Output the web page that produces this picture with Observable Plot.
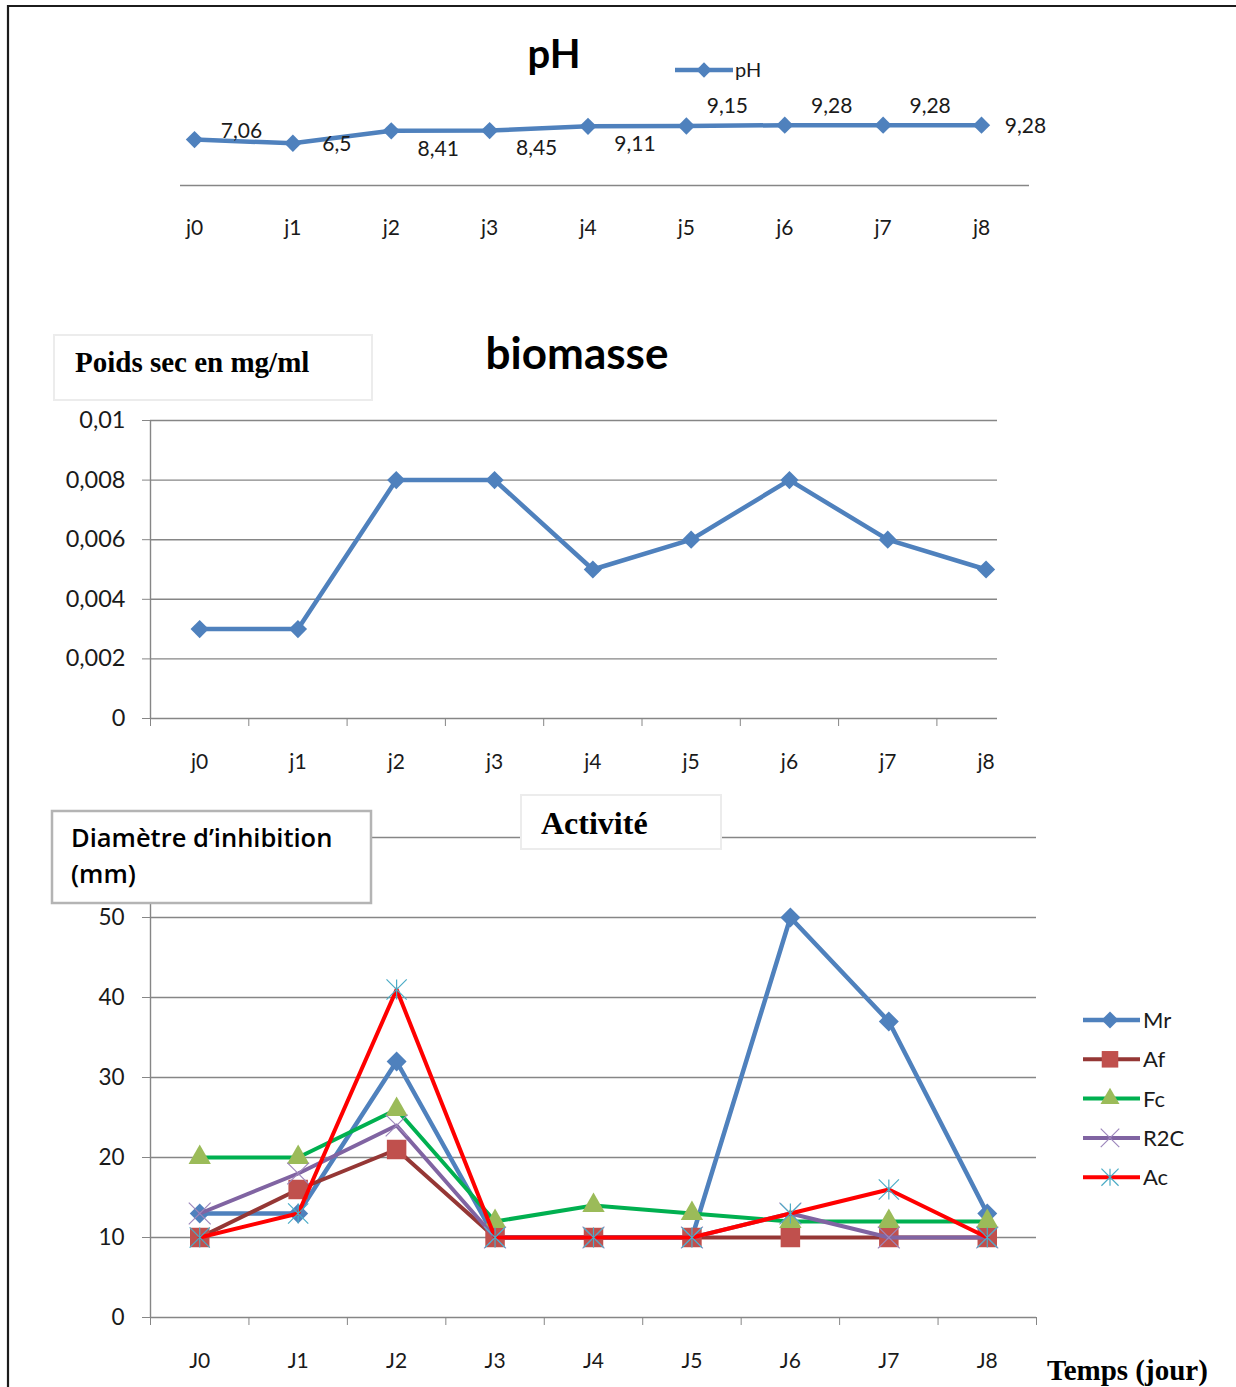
<!DOCTYPE html>
<html>
<head>
<meta charset="utf-8">
<script src="https://cdn.jsdelivr.net/npm/d3@7"></script>
<script src="https://cdn.jsdelivr.net/npm/@observablehq/plot@0.6"></script>
<style>
  html, body { margin: 0; padding: 0; background: #fff; }
  #page { position: relative; width: 1236px; height: 1387px; overflow: hidden; background: #fff; }
  #page > svg { position: absolute; left: 0; top: 0; }
</style>
</head>
<body>
<div id="page"></div>
<script>
// ---- data ----------------------------------------------------------
const days = ["j0", "j1", "j2", "j3", "j4", "j5", "j6", "j7", "j8"];
const daysUpper = ["J0", "J1", "J2", "J3", "J4", "J5", "J6", "J7", "J8"];

const pHValues = [7.06, 6.5, 8.41, 8.45, 9.11, 9.15, 9.28, 9.28, 9.28];

const biomass = [0.003, 0.003, 0.008, 0.008, 0.005, 0.006, 0.008, 0.006, 0.005];
const biomassTicks = [0, 0.002, 0.004, 0.006, 0.008, 0.01];

const seriesNames = ["Mr", "Af", "Fc", "R2C", "Ac"];
const mr  = [13, 13, 32, 10, 10, 10, 50, 37, 13];
const af  = [10, 16, 21, 10, 10, 10, 10, 10, 10];
const fc  = [20, 20, 26, 12, 14, 13, 12, 12, 12];
const r2c = [13, 18, 24, 10, 10, 10, 13, 10, 10];
const ac  = [10, 13, 41, 10, 10, 10, 13, 16, 10];
const activityGrid = [0, 10, 20, 30, 40, 50, 60];
const activityTickLabels = [0, 10, 20, 30, 40, 50];

// ---- layout & style ------------------------------------------------
const W = 1236, H = 1387;
const SANS = "Lato, 'Open Sans', sans-serif";
const WIDE_SANS = "'Open Sans', 'Noto Sans', sans-serif";
const SERIF = "'Liberation Serif', 'Times New Roman', serif";
const BLUE = "#4F81BD";
const GRID = "#868686";
const INK = "#1a1a1a";
const page = document.getElementById("page");

const baseStyle = {background: "transparent", overflow: "visible", fontFamily: SANS, fontSize: "22px", color: INK};
const comma = d => String(d).replace(".", ",");

// star marker: a cross with a vertical bar through it
const star = {
  draw(context, size) {
    const r = Math.sqrt(size) * 0.6;
    context.moveTo(0, -r); context.lineTo(0, r);
    context.moveTo(-r, -r); context.lineTo(r, r);
    context.moveTo(-r, r); context.lineTo(r, -r);
  }
};

// label placement for the pH values (offset from the point)
const pHLabelPlacement = ["aboveNear", "right", "below", "below", "below", "aboveClose", "above", "above", "right"];
const pHLabelOffset = {
  aboveNear: {dx: 47, dy: -8}, right: {dx: 44, dy: 1}, below: {dx: 47, dy: 18},
  aboveClose: {dx: 41, dy: -20}, above: {dx: 47, dy: -19}
};

// series styling for the inhibition chart
const series = [
  {name: "Mr",  values: mr,  line: "#4F81BD", width: 4.5, symbol: "diamond2", r: 9,   fill: "#4F81BD", stroke: "none", sw: 0},
  {name: "Af",  values: af,  line: "#953735", width: 4,   symbol: "square",   r: 11,  fill: "#C0504D", stroke: "none", sw: 0},
  {name: "Fc",  values: fc,  line: "#00B050", width: 4,   symbol: "triangle", r: 8.3, fill: "#9BBB59", stroke: "none", sw: 0},
  {name: "R2C", values: r2c, line: "#8064A2", width: 4,   symbol: "times",    r: 10,  fill: "none", stroke: "#9D87BC", sw: 1.2},
  {name: "Ac",  values: ac,  line: "#FF0000", width: 4,   symbol: star,       r: 9.5, fill: "none", stroke: "#4BACC6", sw: 1.2}
];

// ---- pH --------------------------------------------------------------
const phFrameBottom = 185;
const phPlot = Plot.plot({
  width: W, height: H,
  marginLeft: 180, marginRight: W - 1029, marginTop: 94, marginBottom: H - phFrameBottom,
  style: baseStyle,
  x: {type: "linear", domain: [0, 8], range: [194, 981], axis: null},
  y: {domain: [0, 14], axis: null},
  marks: [
    Plot.ruleY([0], {stroke: GRID, strokeWidth: 1.4}),
    Plot.axisX(d3.range(9), {tickSize: 0, tickPadding: 35, tickFormat: i => days[i], fill: INK, fontSize: 21}),
    Plot.line(pHValues, {x: (d, i) => i, y: d => d, stroke: BLUE, strokeWidth: 4.5}),
    Plot.dot(pHValues, {x: (d, i) => i, y: d => d, symbol: "diamond2", r: 7.8, fill: BLUE}),
    ...Object.keys(pHLabelOffset).map(key => Plot.text(pHValues, {
      filter: (d, i) => pHLabelPlacement[i] === key,
      x: (d, i) => i, y: d => d, text: d => comma(d),
      dx: pHLabelOffset[key].dx, dy: pHLabelOffset[key].dy, fill: INK, fontSize: 21
    }))
  ]
});
page.appendChild(phPlot);

// ---- biomasse --------------------------------------------------------
const bioPlot = Plot.plot({
  width: W, height: H,
  marginLeft: 150, marginRight: W - 997, marginTop: 420, marginBottom: H - 718,
  style: baseStyle,
  x: {type: "linear", domain: [0, 9], range: [150, 150 + 9 * 98.3], axis: null},
  y: {domain: [0, 0.01], axis: null},
  marks: [
    Plot.ruleY(biomassTicks, {stroke: GRID, strokeWidth: 1.4}),
    Plot.ruleX([0], {stroke: GRID, strokeWidth: 1.4}),
    Plot.axisY(biomassTicks, {tickSize: 8, tickPadding: 17, tickFormat: comma, stroke: GRID, fill: INK, fontSize: 23.5}),
    Plot.axisX(d3.range(9), {tickSize: 8, tickFormat: () => "", stroke: GRID}),
    Plot.axisX(d3.range(9).map(i => i + 0.5), {tickSize: 0, tickPadding: 36, tickFormat: d => days[Math.floor(d)], fill: INK, fontSize: 21}),
    Plot.line(biomass, {x: (d, i) => i + 0.5, y: d => d, stroke: BLUE, strokeWidth: 4.5}),
    Plot.dot(biomass, {x: (d, i) => i + 0.5, y: d => d, symbol: "diamond2", r: 8.2, fill: BLUE})
  ]
});
page.appendChild(bioPlot);

// ---- activité --------------------------------------------------------
const actMarks = [
  Plot.ruleY(activityGrid, {stroke: GRID, strokeWidth: 1.4}),
  Plot.ruleX([0], {stroke: GRID, strokeWidth: 1.4}),
  Plot.axisY(activityGrid, {tickSize: 8, tickFormat: () => "", stroke: GRID}),
  Plot.axisY(activityTickLabels, {tickSize: 0, tickPadding: 26, tickFormat: d => String(d), fill: INK, fontSize: 22.5}),
  Plot.axisX(d3.range(10), {tickSize: 8, tickFormat: () => "", stroke: GRID}),
  Plot.axisX(d3.range(9).map(i => i + 0.5), {tickSize: 0, tickPadding: 36, tickFormat: d => daysUpper[Math.floor(d)], fill: INK, fontSize: 21})
];
for (const s of series) {
  actMarks.push(Plot.line(s.values, {x: (d, i) => i + 0.5, y: d => d, stroke: s.line, strokeWidth: s.width}));
  actMarks.push(Plot.dot(s.values, {x: (d, i) => i + 0.5, y: d => d, symbol: s.symbol, r: s.r, fill: s.fill, stroke: s.stroke, strokeWidth: s.sw}));
}
const actPlot = Plot.plot({
  width: W, height: H,
  marginLeft: 150, marginRight: W - 1036, marginTop: 837, marginBottom: H - 1317,
  style: baseStyle,
  x: {type: "linear", domain: [0, 9], axis: null},
  y: {domain: [0, 60], axis: null},
  marks: actMarks
});
page.appendChild(actPlot);

// ---- titles, boxes and legends -------------------------------------
const svg = d3.select(page).append("svg").attr("width", W).attr("height", H)
  .style("font-family", SANS);

// outer frame
svg.append("line").attr("x1", 7).attr("x2", W).attr("y1", 6).attr("y2", 6).attr("stroke", "#1c1c1c").attr("stroke-width", 2.2);
svg.append("line").attr("x1", 8).attr("x2", 8).attr("y1", 5).attr("y2", H).attr("stroke", "#1c1c1c").attr("stroke-width", 2.2);

// pH title and legend
svg.append("text").attr("x", 554).attr("y", 68).attr("text-anchor", "middle")
  .attr("font-size", 40).attr("font-weight", "bold").attr("fill", "#000").text("pH");
svg.append("line").attr("x1", 675).attr("x2", 733).attr("y1", 70).attr("y2", 70).attr("stroke", BLUE).attr("stroke-width", 4.5);
svg.append("path").attr("transform", "translate(704,70)").attr("d", d3.symbol(d3.symbolDiamond2, 150)()).attr("fill", BLUE);
svg.append("text").attr("x", 735).attr("y", 77).attr("font-size", 20).attr("fill", INK).text("pH");

// biomasse title and unit box
svg.append("rect").attr("x", 54).attr("y", 335).attr("width", 318).attr("height", 65)
  .attr("fill", "#fff").attr("stroke", "#ececec").attr("stroke-width", 2);
svg.append("text").attr("x", 75).attr("y", 372).attr("font-family", SERIF).attr("font-weight", "bold")
  .attr("font-size", 29).attr("fill", "#000").text("Poids sec en mg/ml");
svg.append("text").attr("x", 577).attr("y", 369).attr("text-anchor", "middle")
  .attr("font-size", 44).attr("font-weight", "bold").attr("fill", "#000").text("biomasse");

// activité title and unit box
svg.append("rect").attr("x", 521).attr("y", 795).attr("width", 200).attr("height", 54)
  .attr("fill", "#fff").attr("stroke", "#ececec").attr("stroke-width", 2);
svg.append("text").attr("x", 541).attr("y", 834).attr("font-family", SERIF).attr("font-weight", "bold")
  .attr("font-size", 32).attr("fill", "#000").text("Activité");
svg.append("rect").attr("x", 52).attr("y", 811).attr("width", 319).attr("height", 92)
  .attr("fill", "#fff").attr("stroke", "#b4b4b4").attr("stroke-width", 2.5);
svg.append("text").attr("x", 71).attr("y", 847).attr("font-family", WIDE_SANS).attr("font-size", 25.5)
  .attr("font-weight", 600).attr("fill", "#000").text("Diamètre d’inhibition");
svg.append("text").attr("x", 71).attr("y", 883).attr("font-family", WIDE_SANS).attr("font-size", 25.5)
  .attr("font-weight", 600).attr("fill", "#000").text("(mm)");

// series legend
const legend = svg.append("g");
series.forEach((s, k) => {
  const y = 1020 + k * 39.3;
  legend.append("line").attr("x1", 1083).attr("x2", 1140).attr("y1", y).attr("y2", y)
    .attr("stroke", s.line).attr("stroke-width", s.width);
  const symbolType = {diamond2: d3.symbolDiamond2, square: d3.symbolSquare, triangle: d3.symbolTriangle,
                      times: d3.symbolTimes}[s.symbol] || s.symbol;
  legend.append("path").attr("transform", `translate(1110,${y})`)
    .attr("d", d3.symbol(symbolType, Math.PI * s.r * s.r * 0.72)())
    .attr("fill", s.fill).attr("stroke", s.stroke).attr("stroke-width", s.sw);
  legend.append("text").attr("x", 1143).attr("y", y + 8).attr("font-size", 22).attr("fill", INK).text(s.name);
});

// x-axis title
svg.append("text").attr("x", 1047).attr("y", 1380).attr("font-family", SERIF).attr("font-weight", "bold")
  .attr("font-size", 29).attr("fill", "#000").text("Temps (jour)");
</script>
</body>
</html>
